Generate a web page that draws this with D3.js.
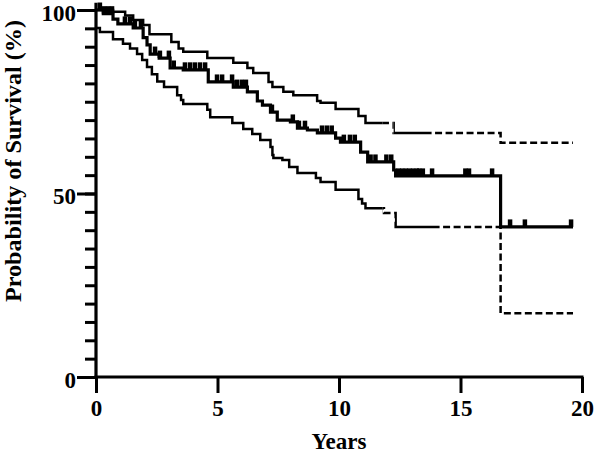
<!DOCTYPE html>
<html>
<head>
<meta charset="utf-8">
<script src="https://cdn.jsdelivr.net/npm/d3@7"></script>
<style>
  html, body { margin: 0; padding: 0; background: #fff; }
  svg { display: block; }
  text { font-family: "Liberation Serif", "Times New Roman", serif; font-weight: bold; fill: #000; }
</style>
</head>
<body>
<svg id="chart" width="596" height="456"></svg>
<script>
// ---------- data ----------
const endTime = 19.63;

const mainT = [0,0.3,0.7,0.9,1.53,1.94,2.1,2.23,2.6,3.05,3.59,4.62,5.65,6.23,6.64,6.85,7.18,7.46,8.0,8.29,8.7,9.11,9.86,10.06,10.89,11.18,12.25,12.33,16.65];
const mainS = [100,99,97.5,96.2,95.1,92.5,90.5,88,86.9,84.2,83.7,80.4,79,77.7,75.2,74.1,72.2,70,69.5,67.8,67.3,66.5,65.1,64,61.3,58.6,56.4,54.8,40.9];

const upperT = [0,0.7,1.2,1.53,1.94,2.2,3.1,3.4,3.59,4.58,5.65,6.23,6.47,7.1,7.26,7.71,8.12,9.1,9.24,9.86,10.8,11.09,12.25,16.65];
const upperS = [100,99.5,98.5,97.3,95.9,93.4,91.3,89.5,88.6,86.9,85.6,84.2,82.8,80.4,79,77.7,76.8,75.2,74.7,73,71.1,69.2,66.5,63.8];

const lowerT = [0,0.16,0.7,1.11,1.4,1.69,1.9,2.1,2.3,2.52,2.8,3.34,3.5,3.59,4.58,4.7,5.61,6.06,6.43,6.76,7.18,7.26,7.3,7.67,7.95,8.29,9.05,9.24,9.86,10.8,10.95,11.09,11.85,12.33,16.65];
const lowerS = [95.1,94,92,90.8,89.5,88,86.4,84.5,82.5,80.5,79,76.8,75.5,74.4,72.8,70.8,69.2,67.6,66.2,64.6,62.7,60.5,59.7,59.1,57.2,55.6,54.2,53.1,51,48.5,47.3,46,44.7,40.9,17.4];

const censorT = [0.16,0.33,0.5,0.66,1.19,1.4,1.6,1.85,2.43,2.63,3.0,3.2,3.66,3.87,4.07,4.28,4.49,4.98,5.19,5.6,5.8,6.0,6.17,7.24,8.1,8.35,8.6,9.3,9.5,9.7,10.2,10.45,10.65,11.3,11.5,11.95,12.15,12.45,12.6,12.75,12.9,13.05,13.2,13.3,13.45,13.83,15.2,15.35,16.3,17.04,17.65,19.55];

const upperDash = [[11.8,12.25],[13.8,21]];
const lowerDash = [[11.8,12.3],[13.95,21]];

const xTicks = [0,5,10,15,20];
const yMajor = [0,50,100];
const yMinor = d3.range(0,101,5);

const xTitle = "Years";
const yTitle = "Probability of Survival (%)";

// ---------- layout ----------
const svg = d3.select("#chart");
const x = d3.scaleLinear().domain([0,20]).range([96,582]);
const y = d3.scaleLinear().domain([0,100]).range([377,10]);

function steps(T, S) {
  const pts = T.map((t,i) => [t, S[i]]);
  pts.push([endTime, S[S.length-1]]);
  return pts;
}
function survAt(T, S, t) {
  let s = S[0];
  for (let i = 0; i < T.length; i++) { if (T[i] <= t) s = S[i]; }
  return s;
}
const line = d3.line().x(d => x(d[0])).y(d => y(d[1])).curve(d3.curveStepAfter);

// clip paths for solid / dashed portions
const defs = svg.append("defs");
function makeClips(id, dashRanges) {
  const dash = defs.append("clipPath").attr("id", id + "-dash");
  dashRanges.forEach(r => dash.append("rect")
    .attr("x", x(r[0])).attr("width", x(r[1]) - x(r[0]))
    .attr("y", 0).attr("height", 456));
  const solid = defs.append("clipPath").attr("id", id + "-solid");
  let start = -1;
  dashRanges.forEach(r => {
    solid.append("rect").attr("x", x(start)).attr("width", x(r[0]) - x(start))
      .attr("y", 0).attr("height", 456);
    start = r[1];
  });
}
makeClips("up", upperDash);
makeClips("lo", lowerDash);

function drawCI(T, S, id) {
  const d = line(steps(T, S));
  svg.append("path").attr("d", d).attr("fill", "none").attr("stroke", "#000")
    .attr("stroke-width", 2.5).attr("clip-path", `url(#${id}-solid)`);
  svg.append("path").attr("d", d).attr("fill", "none").attr("stroke", "#000")
    .attr("stroke-width", 2.5).attr("stroke-dasharray", "7,3.5")
    .attr("clip-path", `url(#${id}-dash)`);
}
drawCI(upperT, upperS, "up");
drawCI(lowerT, lowerS, "lo");

// main curve
svg.append("path").attr("d", line(steps(mainT, mainS)))
  .attr("fill", "none").attr("stroke", "#000").attr("stroke-width", 3.2);

// censor marks
svg.append("g").selectAll("line").data(censorT).join("line")
  .attr("x1", d => x(d)).attr("x2", d => x(d))
  .attr("y1", d => y(survAt(mainT, mainS, d)))
  .attr("y2", d => y(survAt(mainT, mainS, d)) - 7.5)
  .attr("stroke", "#000").attr("stroke-width", 4.5);

// ---------- axes ----------
const yMinorAxis = d3.axisLeft(y).tickValues(yMinor).tickSize(11).tickFormat("");
const gyMin = svg.append("g").attr("transform", `translate(${x(0)},0)`).call(yMinorAxis);
const yMajorAxis = d3.axisLeft(y).tickValues(yMajor).tickSize(19).tickPadding(1).tickFormat(d3.format("d"));
const gyMaj = svg.append("g").attr("transform", `translate(${x(0)},0)`).call(yMajorAxis);
const xAxis = d3.axisBottom(x).tickValues(xTicks).tickSize(16).tickPadding(7).tickFormat(d3.format("d"));
const gx = svg.append("g").attr("transform", `translate(0,${y(0)})`).call(xAxis);

[gyMin, gyMaj, gx].forEach(g => {
  g.select(".domain").remove();
  g.selectAll(".tick line").attr("stroke", "#000").attr("stroke-width", 3);
  g.selectAll(".tick text").style("font-size", "23px")
    .style("font-family", '"Liberation Serif", serif').style("font-weight", "bold").attr("fill", "#000");
});
gyMaj.selectAll(".tick text").attr("dy", "0.45em");

// axis lines
svg.append("line").attr("x1", x(0)).attr("x2", x(0)).attr("y1", y(102)).attr("y2", y(0) + 1.5)
  .attr("stroke", "#000").attr("stroke-width", 3.2);
svg.append("line").attr("x1", x(0) - 1.5).attr("x2", x(20) + 1.5).attr("y1", y(0)).attr("y2", y(0))
  .attr("stroke", "#000").attr("stroke-width", 3.2);

// titles
svg.append("text").attr("x", x(10)).attr("y", 449).attr("text-anchor", "middle")
  .style("font-size", "23px").text(xTitle);
svg.append("text").attr("transform", "translate(21,161) rotate(-90)")
  .attr("text-anchor", "middle").style("font-size", "24px")
  .attr("textLength", 282).attr("lengthAdjust", "spacingAndGlyphs")
  .text(yTitle);
</script>
</body>
</html>
